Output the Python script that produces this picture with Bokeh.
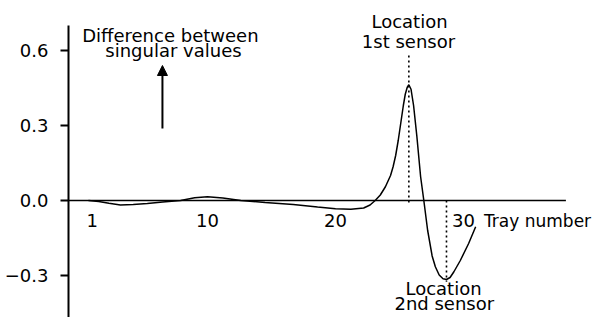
from bokeh.plotting import figure
from bokeh.models import Range1d, FixedTicker, Arrow, NormalHead
from bokeh.core.properties import value
from bokeh.embed import file_html
from bokeh.resources import INLINE

# ---- data ----
tray = [0.7, 1.5, 2.3, 3.2, 4.2, 5.3, 6.5, 7.9, 9.0, 10.0, 11.2, 12.6, 14.5, 16.7,
        18.6, 20.0, 21.2, 22.2, 22.7, 23.1, 23.5, 23.9, 24.3, 24.5, 24.7, 24.9,
        25.1, 25.3, 25.45, 25.6, 25.73, 25.9, 26.1, 26.35, 26.65, 26.9, 27.2,
        27.55, 27.8, 28.1, 28.4, 28.67, 28.95, 29.25, 29.75, 30.4, 30.95]
difference = [0.0, -0.004, -0.011, -0.018, -0.016, -0.012, -0.006, 0.0, 0.011,
              0.015, 0.010, 0.0, -0.008, -0.016, -0.026, -0.033, -0.035, -0.030,
              -0.018, 0.0, 0.022, 0.055, 0.100, 0.135, 0.180, 0.240, 0.310,
              0.380, 0.425, 0.452, 0.463, 0.445, 0.380, 0.260, 0.095, 0.0,
              -0.120, -0.222, -0.265, -0.298, -0.313, -0.316, -0.308, -0.285,
              -0.240, -0.172, -0.105]

x_tick_values = [1, 10, 20, 30]
x_tick_labels = ["1", "10", "20", "30"]
y_tick_values = [-0.3, 0.0, 0.3, 0.6]
y_tick_labels = ["\u22120.3", "0.0", "0.3", "0.6"]

sensor_trays = [25.73, 28.67]

# ---- layout constants ----
X_START, X_END = -0.859, 40.39
Y_START, Y_END = -0.468, 0.8
FONT = "DejaVu Sans"
FS = "18px"

p = figure(width=596, height=317, output_backend="svg", toolbar_location=None,
           x_range=Range1d(X_START, X_END), y_range=Range1d(Y_START, Y_END),
           x_axis_location=None, min_border_left=68, min_border_right=0,
           min_border_top=0, min_border_bottom=0)
p.grid.visible = False
p.outline_line_color = None
p.background_fill_color = "white"

ax = p.yaxis[0]
ax.ticker = FixedTicker(ticks=y_tick_values)
ax.major_label_overrides = dict(zip(y_tick_values, y_tick_labels))
ax.bounds = (-0.6, 0.7)
ax.axis_line_width = 2
ax.axis_line_color = "black"
ax.major_tick_line_width = 2
ax.major_tick_line_color = "black"
ax.major_tick_out = 8
ax.major_tick_in = 0
ax.minor_tick_out = 0
ax.minor_tick_in = 0
ax.major_label_standoff = 12
ax.major_label_text_font = FONT
ax.major_label_text_font_size = FS
ax.major_label_text_color = "black"

# horizontal zero line (tray axis)
p.segment(x0=[X_START], y0=[0], x1=[38.0], y1=[0], line_color="black", line_width=1.6)

# tray tick labels
p.text(x=x_tick_values, y=[-0.080] * len(x_tick_values), text=x_tick_labels,
       text_font=value(FONT), text_font_size=FS, text_align="center",
       text_baseline="alphabetic", text_color="black")
p.text(x=[31.6], y=[-0.080], text=["Tray number"], text_font=value(FONT),
       text_font_size="17px", text_align="left", text_baseline="alphabetic",
       text_color="black")

# sensor dotted lines
p.segment(x0=sensor_trays, y0=[0.58, 0.0], x1=sensor_trays, y1=[-0.02, -0.325],
          line_color="black", line_width=1.6, line_dash="2 3")

# curve
p.line(tray, difference, line_color="black", line_width=1.5)

# annotations
p.text(x=[7.1, 7.34], y=[0.661, 0.600], text=["Difference between", "singular values"],
       text_font=value(FONT), text_font_size=FS, text_align="center",
       text_baseline="alphabetic", text_color="black")
p.text(x=[25.78, 25.7], y=[0.715, 0.635], text=["Location", "1st sensor"],
       text_font=value(FONT), text_font_size=FS, text_align="center",
       text_baseline="alphabetic", text_color="black")
p.text(x=[28.44, 28.5], y=[-0.352, -0.412], text=["Location", "2nd sensor"],
       text_font=value(FONT), text_font_size=FS, text_align="center",
       text_baseline="alphabetic", text_color="black")

p.add_layout(Arrow(end=NormalHead(size=10, fill_color="black", line_color="black"),
                   x_start=6.48, y_start=0.288, x_end=6.48, y_end=0.54,
                   line_color="black", line_width=2))

open("out.html", "w").write(file_html(p, INLINE))
